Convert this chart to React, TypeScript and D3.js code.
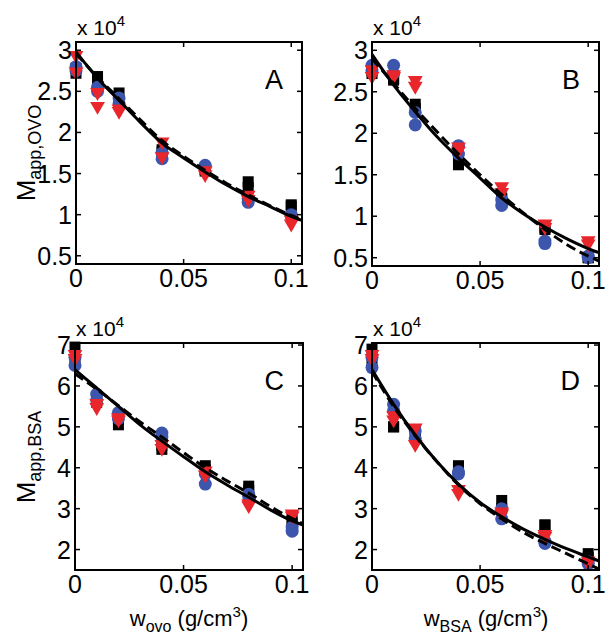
import React from "react";
import * as d3 from "d3";

// ---------- data (values in units of 10^4) ----------
const X_LEVELS = [0, 0.01, 0.02, 0.04, 0.06, 0.08, 0.1];
const CURVE_X = [0, 0.01, 0.02, 0.03, 0.04, 0.05, 0.06, 0.07, 0.08, 0.09, 0.1, 0.105];

// Panel A
const A_SQUARES = [[2.78, 2.72], [2.68, 2.62], [2.48, 2.36], [1.79, 1.76], [1.55, 1.53], [1.4, 1.33], [1.12, 1.1]];
const A_CIRCLES = [[2.8, 2.75], [2.55, 2.5], [2.42, 2.35], [1.68, 1.75], [1.6, 1.58], [1.15, 1.2], [1.0, 0.98]];
const A_TRIANGLES = [[2.95, 2.75], [2.5, 2.33], [2.3, 2.27], [1.9, 1.72], [1.55, 1.5], [1.25, 1.2], [0.95, 0.9]];
const A_SOLID = [2.98, 2.66, 2.39, 2.12, 1.87, 1.69, 1.52, 1.36, 1.22, 1.1, 0.98, 0.93];
const A_DASHED = [2.96, 2.67, 2.41, 2.15, 1.9, 1.71, 1.54, 1.38, 1.24, 1.11, 0.99, 0.94];

// Panel B
const B_SQUARES = [[2.75, 2.72], [2.66, 2.64], [2.35, 2.3], [1.7, 1.62], [1.22, 1.2], [0.86, 0.84], [0.5, 0.5]];
const B_CIRCLES = [[2.82, 2.75], [2.82, 2.72], [2.25, 2.1], [1.85, 1.75], [1.13, 1.2], [0.7, 0.67], [0.52, 0.5]];
const B_TRIANGLES = [[2.78, 2.7], [2.72, 2.7], [2.65, 2.58], [1.85, 1.8], [1.37, 1.3], [0.92, 0.88], [0.72, 0.68]];
const B_SOLID = [2.95, 2.58, 2.26, 1.96, 1.7, 1.46, 1.22, 1.03, 0.87, 0.73, 0.61, 0.56];
const B_DASHED = [2.9, 2.6, 2.3, 2.02, 1.75, 1.5, 1.26, 1.04, 0.84, 0.66, 0.52, 0.46];

// Panel C
const C_SQUARES = [[6.95, 6.6], [5.7, 5.6], [5.05, 5.2], [4.45, 4.55], [4.05, 3.95], [3.55, 3.45], [2.75, 2.65]];
const C_CIRCLES = [[6.7, 6.5], [5.8, 5.65], [5.35, 5.2], [4.85, 4.75], [3.6, 3.85], [3.35, 3.3], [2.45, 2.55]];
const C_TRIANGLES = [[6.8, 6.7], [5.5, 5.6], [5.25, 5.2], [4.6, 4.5], [3.95, 3.85], [3.15, 3.1], [2.9, 2.85]];
const C_SOLID = [6.4, 5.95, 5.5, 5.05, 4.65, 4.27, 3.9, 3.58, 3.28, 2.97, 2.7, 2.6];
const C_DASHED = [6.3, 5.92, 5.52, 5.12, 4.75, 4.37, 4.0, 3.68, 3.38, 3.05, 2.76, 2.63];

// Panel D
const D_SQUARES = [[6.9, 6.6], [5.0, 5.0], [4.9, 4.8], [4.05, 4.0], [3.2, 3.0], [2.6, 2.6], [1.9, 1.8]];
const D_CIRCLES = [[6.7, 6.45], [5.55, 5.4], [4.9, 4.7], [3.9, 3.85], [3.0, 2.75], [2.15, 2.2], [1.65, 1.7]];
const D_TRIANGLES = [[6.8, 6.7], [5.3, 5.2], [5.0, 4.6], [3.5, 3.4], [2.95, 2.9], [2.35, 2.4], [1.75, 1.7]];
const D_SOLID = [6.4, 5.55, 4.8, 4.15, 3.6, 3.15, 2.8, 2.5, 2.25, 2.02, 1.82, 1.72];
const D_DASHED = [6.35, 5.5, 4.78, 4.15, 3.58, 3.12, 2.75, 2.42, 2.15, 1.9, 1.65, 1.52];

const X_TICKS = [0, 0.05, 0.1];
const X_TICK_LABELS = ["0", "0.05", "0.1"];
const Y_TICKS_TOP = [0.5, 1, 1.5, 2, 2.5, 3];
const Y_TICK_LABELS_TOP = ["0.5", "1", "1.5", "2", "2.5", "3"];
const Y_TICKS_BOTTOM = [2, 3, 4, 5, 6, 7];
const Y_TICK_LABELS_BOTTOM = ["2", "3", "4", "5", "6", "7"];

const X_DOMAIN = [0, 0.105];
const Y_DOMAIN_TOP = [0.4, 3.1];
const Y_DOMAIN_BOTTOM = [1.5, 7.05];

const FONT = "'Liberation Sans', Arial, Helvetica, sans-serif";
const BLUE = "#3c55ad";
const RED = "#e8262b";

type PanelProps = {
  left: number; right: number; top: number; bottom: number;
  yDomain: number[]; yTicks: number[]; yTickLabels: string[];
  squares: number[][]; circles: number[][]; triangles: number[][];
  solid: number[]; dashed: number[]; letter: string;
};

function Panel(p: PanelProps) {
  const x = d3.scaleLinear().domain(X_DOMAIN).range([p.left, p.right]);
  const y = d3.scaleLinear().domain(p.yDomain).range([p.bottom, p.top]);
  const line = d3.line<number>().x((_, i) => x(CURVE_X[i])).y((v) => y(v)).curve(d3.curveMonotoneX);
  const tri = d3.symbol().type(d3.symbolTriangle).size(95)();
  const pts = (arr: number[][]) =>
    arr.flatMap((reps, i) => reps.map((v) => [x(X_LEVELS[i]), y(v)] as [number, number]));
  const tl = 5;
  return (
    <g>
      {pts(p.squares).map(([cx, cy], i) => (
        <rect key={"s" + i} x={cx - 5.5} y={cy - 5.5} width={11} height={11} fill="#000" />
      ))}
      {pts(p.circles).map(([cx, cy], i) => (
        <circle key={"c" + i} cx={cx} cy={cy} r={6.5} fill={BLUE} />
      ))}
      {pts(p.triangles).map(([cx, cy], i) => (
        <path key={"t" + i} d={tri || ""} transform={`translate(${cx},${cy + 1}) rotate(180)`} fill={RED} />
      ))}
      <path d={line(p.dashed) || ""} fill="none" stroke="#000" strokeWidth={3} strokeDasharray="10,5" />
      <path d={line(p.solid) || ""} fill="none" stroke="#000" strokeWidth={3} />
      <rect x={p.left} y={p.top} width={p.right - p.left} height={p.bottom - p.top} fill="none" stroke="#000" strokeWidth={2} />
      {X_TICKS.map((t, i) => (
        <g key={"xt" + i}>
          <line x1={x(t)} x2={x(t)} y1={p.bottom} y2={p.bottom - tl} stroke="#000" strokeWidth={1.5} />
          <line x1={x(t)} x2={x(t)} y1={p.top} y2={p.top + tl} stroke="#000" strokeWidth={1.5} />
          <text x={x(t)} y={p.bottom + 23} textAnchor="middle" fontSize={25} fontFamily={FONT}>{X_TICK_LABELS[i]}</text>
        </g>
      ))}
      {p.yTicks.map((t, i) => (
        <g key={"yt" + i}>
          <line x1={p.left} x2={p.left + tl} y1={y(t)} y2={y(t)} stroke="#000" strokeWidth={1.5} />
          <line x1={p.right} x2={p.right - tl} y1={y(t)} y2={y(t)} stroke="#000" strokeWidth={1.5} />
          <text x={p.left - 4} y={y(t) + 9} textAnchor="end" fontSize={25} fontFamily={FONT}>{p.yTickLabels[i]}</text>
        </g>
      ))}
      <text x={p.left + 1} y={p.top - 7} fontSize={21} fontFamily={FONT}>
        x 10<tspan dy={-9} fontSize={15}>4</tspan>
      </text>
      <text x={p.right - 19} y={p.top + 47} textAnchor="end" fontSize={27} fontFamily={FONT}>{p.letter}</text>
    </g>
  );
}

export default function App() {
  return (
    <svg width={612} height={644} style={{ position: "absolute", left: 0, top: 0, background: "#fff" }}>
      <rect width={612} height={644} fill="#fff" />
      <Panel left={76} right={302} top={42} bottom={264} yDomain={Y_DOMAIN_TOP} yTicks={Y_TICKS_TOP} yTickLabels={Y_TICK_LABELS_TOP}
        squares={A_SQUARES} circles={A_CIRCLES} triangles={A_TRIANGLES} solid={A_SOLID} dashed={A_DASHED} letter="A" />
      <Panel left={372} right={599} top={42} bottom={266} yDomain={Y_DOMAIN_TOP} yTicks={Y_TICKS_TOP} yTickLabels={Y_TICK_LABELS_TOP}
        squares={B_SQUARES} circles={B_CIRCLES} triangles={B_TRIANGLES} solid={B_SOLID} dashed={B_DASHED} letter="B" />
      <Panel left={75} right={303} top={343} bottom={570} yDomain={Y_DOMAIN_BOTTOM} yTicks={Y_TICKS_BOTTOM} yTickLabels={Y_TICK_LABELS_BOTTOM}
        squares={C_SQUARES} circles={C_CIRCLES} triangles={C_TRIANGLES} solid={C_SOLID} dashed={C_DASHED} letter="C" />
      <Panel left={372} right={599} top={343} bottom={570} yDomain={Y_DOMAIN_BOTTOM} yTicks={Y_TICKS_BOTTOM} yTickLabels={Y_TICK_LABELS_BOTTOM}
        squares={D_SQUARES} circles={D_CIRCLES} triangles={D_TRIANGLES} solid={D_SOLID} dashed={D_DASHED} letter="D" />
      <text transform="translate(35,153) rotate(-90)" textAnchor="middle" fontSize={26} fontFamily={FONT}>
        M<tspan dy={6} fontSize={18}>app,OVO</tspan>
      </text>
      <text transform="translate(35,457) rotate(-90)" textAnchor="middle" fontSize={26} fontFamily={FONT}>
        M<tspan dy={6} fontSize={18}>app,BSA</tspan>
      </text>
      <text x={189} y={626} textAnchor="middle" fontSize={22} fontFamily={FONT}>
        w<tspan dy={6} fontSize={16}>ovo</tspan><tspan dy={-6}> (g/cm</tspan><tspan dy={-9} fontSize={15}>3</tspan><tspan dy={9}>)</tspan>
      </text>
      <text x={486} y={626} textAnchor="middle" fontSize={22} fontFamily={FONT}>
        w<tspan dy={6} fontSize={16}>BSA</tspan><tspan dy={-6}> (g/cm</tspan><tspan dy={-9} fontSize={15}>3</tspan><tspan dy={9}>)</tspan>
      </text>
    </svg>
  );
}
